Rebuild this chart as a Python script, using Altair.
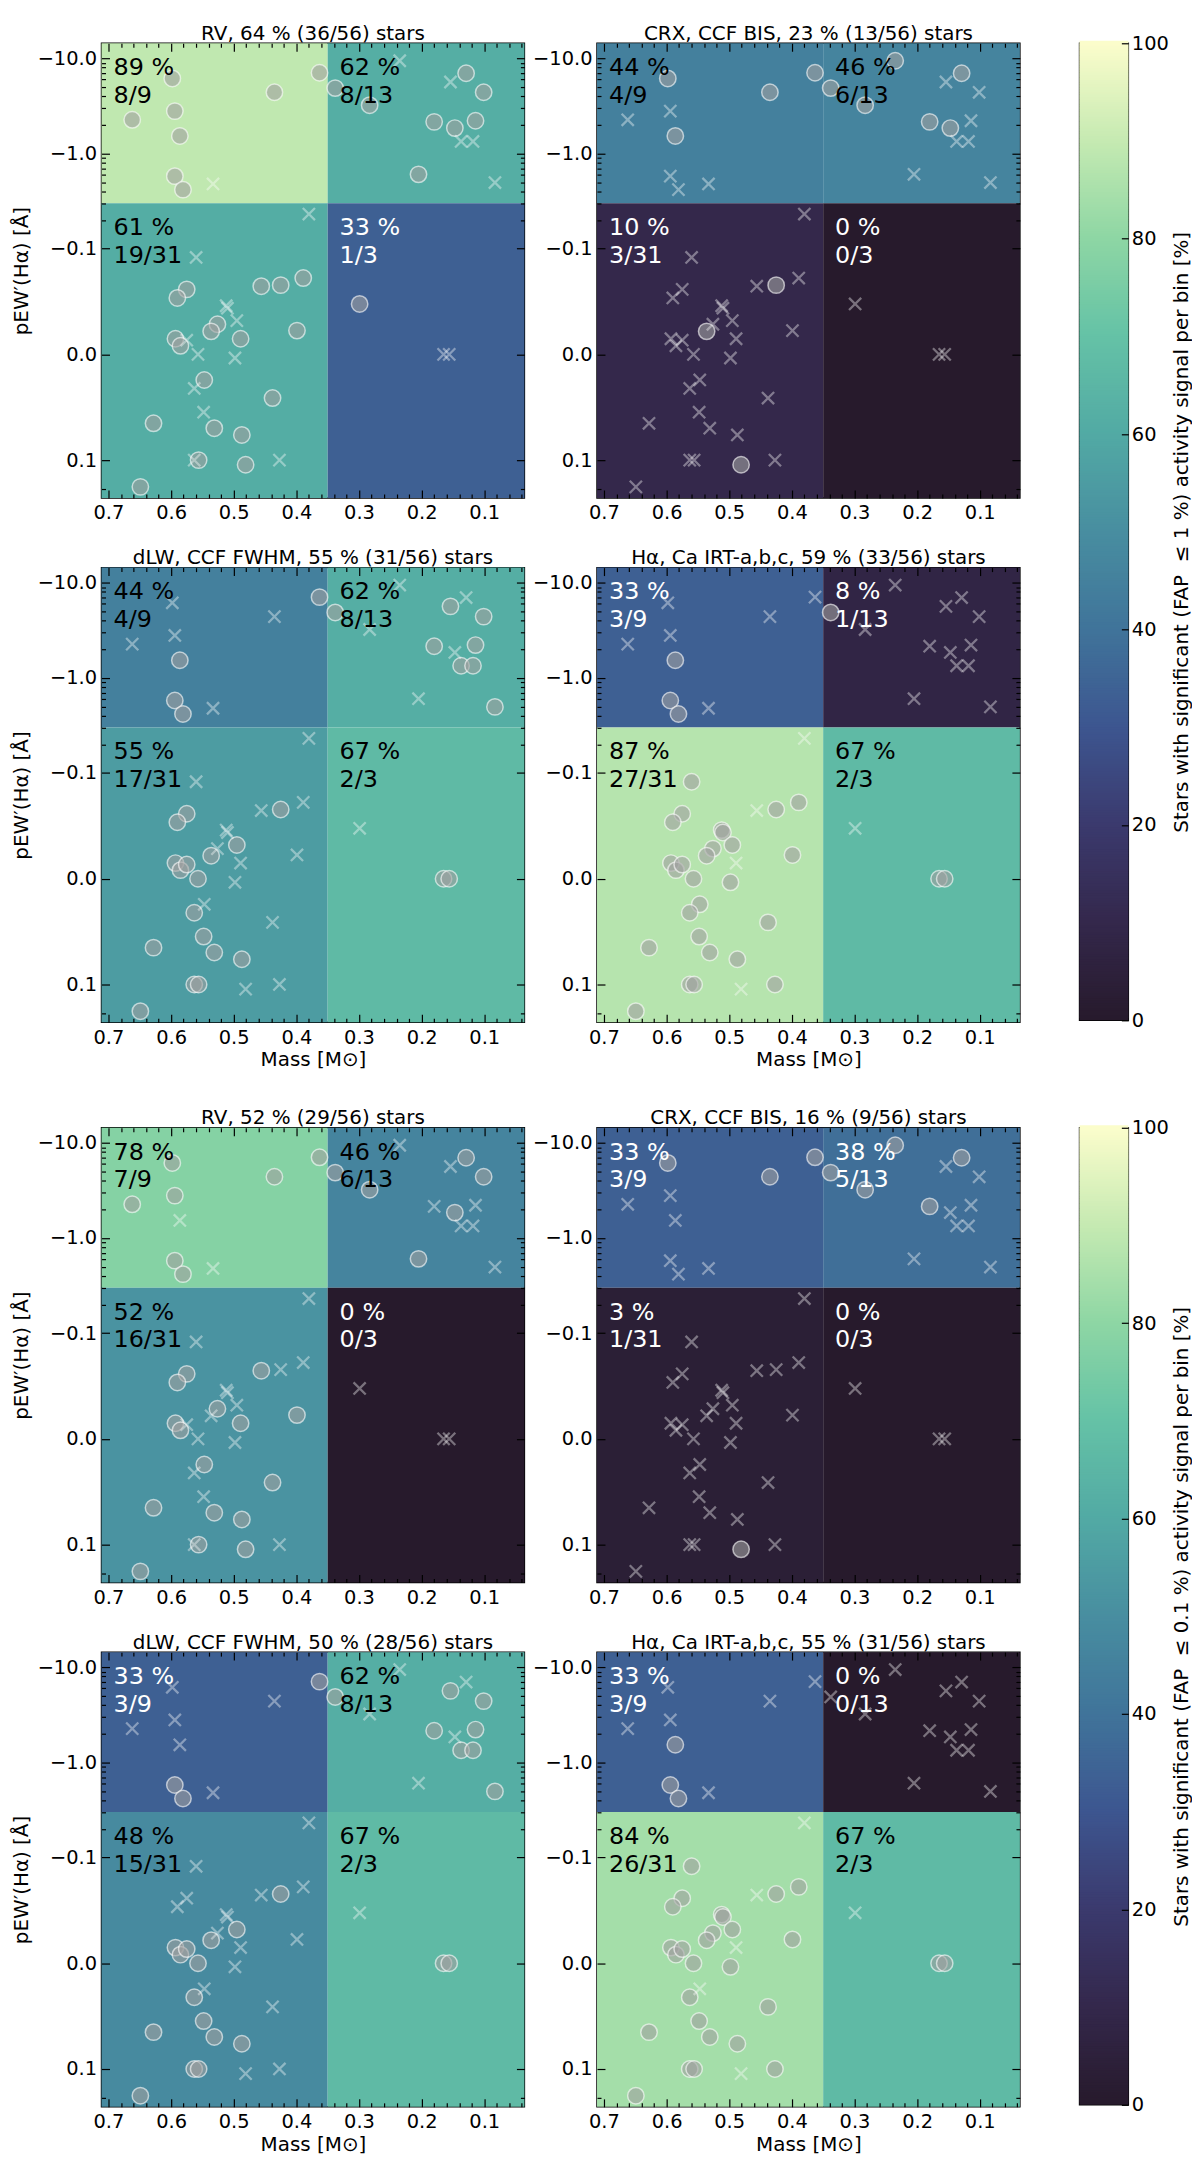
import math
import altair as alt
import pandas as pd

FONT = "DejaVu Sans"

# star sample: stellar mass [M_sun] and pEW'(H alpha) [A]
MASS = [0.598, 0.662, 0.594, 0.586, 0.435, 0.363, 0.594, 0.581, 0.533,
        0.235, 0.338, 0.283, 0.154, 0.129, 0.101, 0.180, 0.147, 0.114, 0.137, 0.118, 0.205, 0.083,
        0.299, 0.165, 0.156,
        0.380, 0.560, 0.575, 0.590, 0.456, 0.425, 0.389, 0.512, 0.510, 0.495, 0.526, 0.536, 0.399,
        0.593, 0.585, 0.575, 0.489, 0.557, 0.498, 0.547, 0.563, 0.438, 0.548, 0.628, 0.531, 0.487,
        0.563, 0.556, 0.427, 0.481, 0.649]
PEW = [-6.15, -2.26, -2.79, -1.53, -4.40, -7.05, -0.578, -0.417, -0.479,
       -9.44, -4.87, -3.22, -5.64, -6.98, -4.40, -2.15, -1.85, -2.21, -1.34, -1.34, -0.604, -0.495,
       -0.0477, 0.0, 0.0,
       -0.231, -0.0917, -0.0615, -0.0534, -0.0645, -0.0655, -0.0722, -0.046, -0.0437, -0.0319, -0.0285, -0.0218, -0.0225,
       -0.0148, -0.0081, -0.0134, -0.0148, 0.0, 0.0034, 0.0242, 0.0322, 0.0413, 0.0547, 0.0652, 0.0698, 0.0762,
       0.1, 0.1, 0.1, 0.112, 0.191]

# stars (1-based) with a significant signal, FAP <= 1 %
RV_1 = [1, 2, 3, 4, 5, 6, 7, 8, 11, 12, 14, 15, 16, 17, 18, 21, 23,
        28, 29, 30, 31, 32, 36, 37, 38, 39, 40, 42, 45, 47, 49, 50, 51, 53, 55, 56]
CRX_1 = [1, 4, 5, 6, 10, 11, 12, 14, 16, 17, 31, 37, 55]
DLW_1 = [4, 6, 7, 8, 11, 13, 15, 16, 18, 19, 20, 22, 24, 25,
         28, 29, 31, 35, 37, 39, 40, 41, 43, 46, 48, 49, 50, 51, 52, 53, 56]
HA_1 = [4, 7, 8, 11, 24, 25, 27, 28, 29, 31, 32, 33, 34, 35, 36, 37, 38, 39, 40, 41,
        43, 44, 45, 46, 47, 48, 49, 50, 51, 52, 53, 54, 56]
# FAP <= 0.1 %
RV_01 = [1, 2, 3, 5, 6, 7, 8, 11, 12, 14, 15, 17, 21,
         28, 29, 30, 36, 38, 39, 40, 42, 45, 47, 49, 50, 51, 53, 55, 56]
CRX_01 = [1, 5, 6, 10, 11, 12, 14, 16, 55]
DLW_01 = [6, 7, 8, 11, 13, 15, 16, 18, 19, 20, 22, 24, 25,
          31, 35, 37, 39, 40, 41, 43, 46, 48, 49, 50, 51, 52, 53, 56]
HA_01 = [4, 7, 8, 24, 25, 27, 28, 29, 31, 32, 33, 34, 35, 36, 37, 38, 39, 40, 41,
         43, 44, 46, 47, 48, 49, 50, 51, 52, 53, 54, 56]

NAMES = ["RV", "CRX, CCF BIS", "dLW, CCF FWHM", "Hα, Ca IRT-a,b,c"]

X_MAJOR = [0.1, 0.2, 0.3, 0.4, 0.5, 0.6, 0.7]
X_MINOR = [0.04, 0.06, 0.08, 0.12, 0.14, 0.16, 0.18, 0.22, 0.24, 0.26, 0.28,
           0.32, 0.34, 0.36, 0.38, 0.42, 0.44, 0.46, 0.48, 0.52, 0.54, 0.56, 0.58,
           0.62, 0.64, 0.66, 0.68]
Y_MAJOR = [-10.0, -1.0, -0.1, 0.0, 0.1]
Y_LABELS = ["\u221210.0", "\u22121.0", "\u22120.1", "0.0", "0.1"]
Y_MINOR = [-9, -8, -7, -6, -5, -4, -3, -2,
           -0.9, -0.8, -0.7, -0.6, -0.5, -0.4, -0.3, -0.2, 0.2]
CB_TICKS = [0, 20, 40, 60, 80, 100]

C_STOPS = [0, 10, 20, 30, 40, 50, 60, 70, 80, 90, 100]
C_COLORS = ["#271a2c", "#34284c", "#3b3a6e", "#3d5690", "#40749a", "#488ea0",
            "#52aaa4", "#65c2a6", "#8ed6a4", "#c6eab2", "#fcfdcc"]

W, H = 425, 457
GAP = 68
FS = 19.5
LS = 1.0 / (1.0 - 1.0 / 10.0)


def symlog(v):
    # matplotlib symlog, linthresh 0.1, linscale 1
    if abs(v) <= 0.1:
        return v / 0.1 * LS
    return math.copysign(LS + math.log10(abs(v) / 0.1), v)


X_DOM = [0.036, 0.711]
P_TOP, P_BOT = -14.4, 0.25
Y_DOM = [symlog(P_TOP), symlog(P_BOT)]
M_CUT, P_CUT = 0.35, -0.3

xs = alt.Scale(domain=X_DOM, reverse=True, nice=False, zero=False)
ys = alt.Scale(domain=Y_DOM, reverse=True, nice=False, zero=False)
cs = alt.Scale(domain=C_STOPS, range=C_COLORS, interpolate="rgb")

y_major_t = [symlog(v) for v in Y_MAJOR]
y_minor_t = [symlog(v) for v in Y_MINOR]
y_label_expr = " : ".join(
    f"abs(datum.value - ({t})) < 1e-6 ? '{lab}'" for t, lab in zip(y_major_t, Y_LABELS)
) + " : ''"
x_major_test = "abs(datum.value * 10 - round(datum.value * 10)) < 1e-6"
y_major_test = " || ".join(f"abs(datum.value - ({t})) < 1e-6" for t in y_major_t)

TITLE_STYLE = dict(fontSize=20, fontWeight="normal", font=FONT, color="black", offset=-1)


def tick_axis(orient, offset, values, test):
    # ticks drawn inward: axis moved onto the opposite frame edge
    return alt.Axis(orient=orient, offset=offset, values=values, labels=False,
                    domain=False, grid=False, ticks=True, tickColor="black", tickWidth=1.2,
                    tickSize={"condition": {"test": test, "value": 8}, "value": 4},
                    title="", zindex=2)


def panel(name, det, left, bottom):
    df = pd.DataFrame({"mass": MASS, "pew": PEW})
    df["t"] = df["pew"].map(symlog)
    df["det"] = [i + 1 in det for i in range(len(df))]

    rows = []
    for is_left in (True, False):
        for is_top in (True, False):
            sel = df[((df.mass >= M_CUT) == is_left) & ((df.pew < P_CUT) == is_top)]
            k, n = int(sel.det.sum()), len(sel)
            pct = 100.0 * k / n
            rows.append({
                "m_hi": X_DOM[1] if is_left else M_CUT,
                "m_lo": M_CUT if is_left else X_DOM[0],
                "t_top": Y_DOM[0] if is_top else symlog(P_CUT),
                "t_bot": symlog(P_CUT) if is_top else Y_DOM[1],
                "pct": pct,
                "label": f"{round(pct)} %\n{k}/{n}",
            })
    bins = pd.DataFrame(rows)
    k_all = int(df.det.sum())
    title = f"{name}, {round(100 * k_all / len(df))} % ({k_all}/{len(df)}) stars"

    x_lab = alt.Axis(orient="bottom", values=X_MAJOR, format=".1f", ticks=False, domain=False,
                     grid=False, labelFontSize=FS, labelPadding=6, labelColor="black",
                     title="Mass [M\u2299]" if bottom else "", titleFontSize=20,
                     titleFontWeight="normal", titleColor="black", titlePadding=3)
    y_lab = alt.Axis(orient="left", values=y_major_t, labelExpr=y_label_expr, ticks=False,
                     domain=False, grid=False, labelFontSize=FS, labelPadding=5,
                     labelColor="black",
                     title="pEW\u2032(H\u03b1) [\u00c5]" if left else "", titleFontSize=20,
                     titleFontWeight="normal", titleColor="black", titlePadding=6)

    rects = alt.Chart(bins).mark_rect().encode(
        x=alt.X("m_hi:Q", scale=xs, axis=x_lab),
        x2="m_lo:Q",
        y=alt.Y("t_top:Q", scale=ys, axis=y_lab),
        y2="t_bot:Q",
        color=alt.Color("pct:Q", scale=cs, legend=None),
    )
    circles = alt.Chart(df[df.det]).mark_point(
        shape="circle", filled=True, size=272, fill="#a0a0a0", fillOpacity=0.6,
        stroke="white", strokeOpacity=0.6, strokeWidth=1.5,
    ).encode(
        x=alt.X("mass:Q", scale=xs, axis=tick_axis("top", -H, X_MAJOR + X_MINOR, x_major_test)),
        y=alt.Y("t:Q", scale=ys, axis=tick_axis("right", -W, y_major_t + y_minor_t, y_major_test)),
    )
    crosses = alt.Chart(df[~df.det]).mark_point(
        shape="M-1,-1L1,1M-1,1L1,-1", filled=False, size=150,
        stroke="white", strokeOpacity=0.55, strokeWidth=2.3,
    ).encode(
        x=alt.X("mass:Q", scale=xs, axis=tick_axis("bottom", -H, X_MAJOR + X_MINOR, x_major_test)),
        y=alt.Y("t:Q", scale=ys, axis=tick_axis("left", -W, y_major_t + y_minor_t, y_major_test)),
    )
    texts = alt.Chart(bins).mark_text(
        align="left", baseline="top", dx=12, dy=13, fontSize=24, lineBreak="\n",
        lineHeight=28, font=FONT,
    ).encode(
        x=alt.X("m_hi:Q", scale=xs, axis=None),
        y=alt.Y("t_top:Q", scale=ys, axis=None),
        text="label:N",
        color=alt.condition("datum.pct < 40", alt.value("white"), alt.value("black")),
    )
    return alt.layer(rects, circles, crosses, texts).resolve_axis(
        x="independent", y="independent"
    ).properties(width=W, height=H, title=alt.TitleParams(title, **TITLE_STYLE))


def colorbar(fap):
    label = f"Stars with significant (FAP\u00a0 \u2264 {fap} %) activity signal per bin [%]"
    cb_x = alt.Scale(domain=[0, 1], nice=False, zero=False)
    cb_y = alt.Scale(domain=[0, 100], nice=False, zero=False)
    base = alt.Chart(alt.sequence(0, 100, 0.25, as_="v")).transform_calculate(
        v2="datum.v + 0.5", x0="0", x1="1"
    )
    bar = base.mark_rect().encode(
        x=alt.X("x0:Q", scale=cb_x, axis=None),
        x2="x1:Q",
        y=alt.Y("v:Q", scale=cb_y,
                axis=alt.Axis(orient="right", values=CB_TICKS, format="d", ticks=False,
                              domain=False, grid=False, labelFontSize=FS, labelPadding=3,
                              labelColor="black", title=label, titleFontSize=20,
                              titleFontWeight="normal", titleColor="black", titleAngle=270,
                              titleBaseline="top", titlePadding=3)),
        y2="v2:Q",
        color=alt.Color("v:Q", scale=cs, legend=None),
    )
    ticks = base.mark_rect(opacity=0).encode(
        x=alt.X("x0:Q", scale=cb_x, axis=None),
        x2="x1:Q",
        y=alt.Y("v:Q", scale=cb_y,
                axis=alt.Axis(orient="left", offset=-49, values=CB_TICKS, labels=False,
                              domain=False, grid=False, tickSize=7, tickColor="black",
                              tickWidth=1.2, title="", zindex=2)),
        y2="v2:Q",
    )
    return alt.layer(bar, ticks).resolve_axis(y="independent").properties(
        width=49, height=2 * H + GAP,
        # blank title so the bar starts level with the panel frames
        title=alt.TitleParams(" ", **TITLE_STYLE),
    )


def group(dets, fap):
    p = [panel(n, d, i % 2 == 0, i >= 2) for i, (n, d) in enumerate(zip(NAMES, dets))]
    grid = alt.vconcat(
        alt.hconcat(p[0], p[1], spacing=5),
        alt.hconcat(p[2], p[3], spacing=5),
        spacing=23,
    )
    return alt.hconcat(grid, colorbar(fap), spacing=57)


chart = alt.vconcat(
    group([RV_1, CRX_1, DLW_1, HA_1], "1"),
    group([RV_01, CRX_01, DLW_01, HA_01], "0.1"),
    spacing=27,
).properties(
    padding={"left": 2, "top": 0, "right": 0, "bottom": 2}
).configure(font=FONT).configure_view(stroke="black", strokeWidth=1.5)

chart.save("out.html", embed_options={"renderer": "svg", "actions": False})
